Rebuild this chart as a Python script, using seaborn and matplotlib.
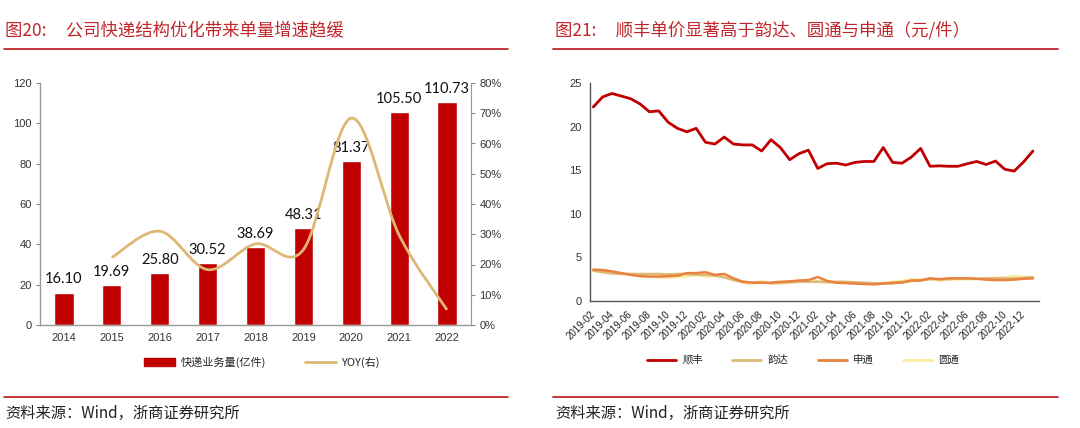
import numpy as np
import pandas as pd
import matplotlib
matplotlib.use("Agg")
import matplotlib.pyplot as plt
from matplotlib.path import Path
from matplotlib.patches import PathPatch, Patch
from matplotlib.lines import Line2D
import seaborn as sns

# ---------------------------
# 数据
# ---------------------------
years = ['2014', '2015', '2016', '2017', '2018', '2019', '2020', '2021', '2022']
volume = [16.10, 19.69, 25.80, 30.52, 38.69, 48.31, 81.37, 105.50, 110.73]   # 快递业务量(亿件)
yoy_years = ['2015', '2016', '2017', '2018', '2019', '2020', '2021', '2022']
yoy = [0.223, 0.310, 0.183, 0.268, 0.249, 0.684, 0.297, 0.050]              # YOY(右)

months = ['2019-02', '2019-03', '2019-04', '2019-05', '2019-06', '2019-07', '2019-08', '2019-09',
          '2019-10', '2019-11', '2019-12', '2020-01', '2020-02', '2020-03', '2020-04', '2020-05',
          '2020-06', '2020-07', '2020-08', '2020-09', '2020-10', '2020-11', '2020-12', '2021-01',
          '2021-02', '2021-03', '2021-04', '2021-05', '2021-06', '2021-07', '2021-08', '2021-09',
          '2021-10', '2021-11', '2021-12', '2022-01', '2022-02', '2022-03', '2022-04', '2022-05',
          '2022-06', '2022-07', '2022-08', '2022-09', '2022-10', '2022-11', '2022-12', '2023-01']
sf = [22.25, 23.4, 23.8, 23.5, 23.2, 22.6, 21.7, 21.8, 20.5, 19.8, 19.4, 19.8,
      18.2, 18.0, 18.8, 18.0, 17.9, 17.9, 17.2, 18.5, 17.6, 16.2, 16.9, 17.3,
      15.2, 15.75, 15.8, 15.6, 15.9, 16.0, 16.0, 17.6, 15.9, 15.8, 16.5, 17.5,
      15.45, 15.5, 15.45, 15.45, 15.75, 16.0, 15.65, 16.05, 15.1, 14.9, 15.95, 17.2]
yunda = [3.5, 3.3, 3.15, 3.1, 3.1, 3.1, 3.1, 3.1, 3.05, 3.1, 3.1, 3.0,
         3.0, 2.9, 2.7, 2.4, 2.2, 2.1, 2.1, 2.05, 2.1, 2.15, 2.2, 2.2,
         2.2, 2.15, 2.2, 2.2, 2.15, 2.1, 2.05, 2.0, 2.0, 2.2, 2.3, 2.4,
         2.5, 2.5, 2.5, 2.55, 2.55, 2.55, 2.6, 2.6, 2.6, 2.6, 2.65, 2.7]
sto = [3.6, 3.55, 3.4, 3.2, 3.0, 2.85, 2.8, 2.8, 2.85, 2.9, 3.2, 3.2,
       3.3, 3.0, 3.1, 2.6, 2.2, 2.1, 2.1, 2.1, 2.2, 2.25, 2.35, 2.4,
       2.75, 2.3, 2.1, 2.05, 2.0, 1.95, 1.9, 2.0, 2.1, 2.1, 2.35, 2.35,
       2.6, 2.5, 2.6, 2.6, 2.6, 2.55, 2.45, 2.4, 2.4, 2.45, 2.55, 2.6]
yto = [3.4, 3.3, 3.2, 3.1, 3.0, 2.9, 2.8, 2.7, 2.7, 2.75, 2.8, 3.0,
       2.8, 2.9, 2.8, 2.4, 2.1, 2.0, 2.3, 2.0, 2.0, 2.1, 2.2, 2.3,
       2.3, 2.2, 2.1, 2.1, 2.1, 2.0, 2.0, 2.1, 2.2, 2.3, 2.5, 2.4,
       2.6, 2.3, 2.5, 2.5, 2.5, 2.5, 2.6, 2.65, 2.7, 2.9, 2.75, 2.75]
brands = ['顺丰', '韵达', '申通', '圆通']

RED = '#C00000'
TITLE_RED = '#C0262B'
TAN = '#DDB874'
palette = {'顺丰': '#C00000', '韵达': '#DDBB78', '申通': '#E98140', '圆通': '#FBEBA0'}

sns.set_style("white")
plt.rcParams['font.family'] = ['Noto Sans CJK SC', 'DejaVu Sans']
TICKFONT = ['Liberation Sans', 'DejaVu Sans']
CJK = ['Noto Sans CJK SC', 'DejaVu Sans']

W, H = 1080, 428
fig = plt.figure(figsize=(W / 100, H / 100), dpi=100)


def fx(px):
    return px / W


def fy(py):
    return 1 - py / H


# ---------------------------
# 标题、分隔线、资料来源
# ---------------------------
fig.text(fx(5), fy(30), '图20:     公司快递结构优化带来单量增速趋缓', color=TITLE_RED,
         fontsize=12.5, va='center', ha='left', family=CJK)
fig.text(fx(555), fy(30), '图21:     顺丰单价显著高于韵达、圆通与申通（元/件）', color=TITLE_RED,
         fontsize=12.5, va='center', ha='left', family=CJK)
for x0, x1 in [(4, 508), (553, 1058)]:
    fig.add_artist(Line2D([fx(x0), fx(x1)], [fy(49), fy(49)], color=TITLE_RED, lw=1.3))
    fig.add_artist(Line2D([fx(x0), fx(x1)], [fy(397), fy(397)], color=TITLE_RED, lw=1.3))
fig.text(fx(5), fy(413), '资料来源：Wind，浙商证券研究所', fontsize=11, va='center', ha='left',
         color='#222222', family=CJK)
fig.text(fx(555), fy(413), '资料来源：Wind，浙商证券研究所', fontsize=11, va='center', ha='left',
         color='#222222', family=CJK)

# ---------------------------
# 左图：快递业务量 + YOY
# ---------------------------
ax1 = fig.add_axes([fx(40), fy(325), fx(431), 242 / H])
df_vol = pd.DataFrame({'year': years, 'volume': volume})
sns.barplot(data=df_vol, x='year', y='volume', color=RED, width=0.4, saturation=1, ax=ax1)
ax1.set_xlim(-0.5, len(years) - 0.5)
ax1.set_ylim(0, 120)
ax1.set_yticks(range(0, 121, 20))
ax1.set_xlabel('')
ax1.set_ylabel('')
for i, v in enumerate(volume):
    ax1.text(i, v + 3, f'{v:.2f}', ha='center', va='bottom', fontsize=10.5,
             family=['Lato', 'DejaVu Sans'], color='#111111', clip_on=False)

ax1.set_xticks(np.arange(-0.5, len(years), 1), minor=True)
ax1.tick_params(axis='x', which='major', length=0, pad=6)
ax1.tick_params(axis='x', which='minor', length=4, direction='out', color='#888888')
ax1.tick_params(axis='y', length=3, direction='out', color='#888888', pad=3)
for lab in ax1.get_xticklabels() + ax1.get_yticklabels():
    lab.set_fontfamily(TICKFONT)
    lab.set_fontsize(8)
    lab.set_color('#333333')
for s in ['top', 'right']:
    ax1.spines[s].set_visible(False)
for s in ['left', 'bottom']:
    ax1.spines[s].set_color('#999999')
    ax1.spines[s].set_linewidth(1.0)

ax2 = ax1.twinx()
ax2.set_ylim(0, 0.8)
ax2.set_yticks(np.arange(0, 0.81, 0.1))
ax2.set_yticklabels([f'{int(round(t * 100))}%' for t in np.arange(0, 0.81, 0.1)])
ax2.tick_params(axis='y', length=3, direction='out', color='#888888', pad=3)
for lab in ax2.get_yticklabels():
    lab.set_fontfamily(TICKFONT)
    lab.set_fontsize(8)
    lab.set_color('#333333')
for s in ['top', 'left', 'bottom']:
    ax2.spines[s].set_visible(False)
ax2.spines['right'].set_color('#999999')

# 平滑曲线 (Catmull-Rom -> Bezier)
px = np.array([years.index(y) for y in yoy_years], dtype=float)
py = np.array(yoy)
verts = [(px[0], py[0])]
codes = [Path.MOVETO]
for i in range(len(px) - 1):
    p0 = np.array([px[max(i - 1, 0)], py[max(i - 1, 0)]])
    p1 = np.array([px[i], py[i]])
    p2 = np.array([px[i + 1], py[i + 1]])
    p3 = np.array([px[min(i + 2, len(px) - 1)], py[min(i + 2, len(px) - 1)]])
    c1 = p1 + (p2 - p0) / 6
    c2 = p2 - (p3 - p1) / 6
    verts += [tuple(c1), tuple(c2), tuple(p2)]
    codes += [Path.CURVE4] * 3
ax2.add_patch(PathPatch(Path(verts, codes), facecolor='none', edgecolor=TAN, lw=2))

fig.legend(handles=[Patch(facecolor=RED, edgecolor=RED),
                    Line2D([], [], color=TAN, lw=2)],
           labels=['快递业务量(亿件)', 'YOY(右)'],
           loc='center', bbox_to_anchor=(fx(262), fy(362)), ncol=2, frameon=False,
           prop={'family': CJK, 'size': 8}, handlelength=2.8, handleheight=0.7,
           columnspacing=3.5, handletextpad=0.5)

# ---------------------------
# 右图：单票价格
# ---------------------------
ax3 = fig.add_axes([fx(590), fy(301), fx(449), 218 / H])
df_price = pd.DataFrame({'month': months, '顺丰': sf, '韵达': yunda, '申通': sto, '圆通': yto})
df_price['idx'] = np.arange(len(months))
df_long = df_price.melt(id_vars=['month', 'idx'], value_vars=brands,
                        var_name='brand', value_name='price')
draw_order = ['圆通', '韵达', '申通', '顺丰']
for b in draw_order:
    sns.lineplot(data=df_long[df_long['brand'] == b], x='idx', y='price',
                 color=palette[b], lw=2 if b == '顺丰' else 1.8, ax=ax3, legend=False)
ax3.set_xlim(-0.35, len(months) - 0.35)
ax3.set_ylim(0, 25)
ax3.set_yticks(range(0, 26, 5))
ticks = [i - 0.35 for i in range(0, len(months) + 1, 2)]
ax3.set_xticks(ticks)
ax3.set_xticklabels([months[i] if i < len(months) - 1 else '' for i in range(0, len(months) + 1, 2)],
                    rotation=45, ha='right', rotation_mode='anchor')
ax3.set_xlabel('')
ax3.set_ylabel('')
ax3.tick_params(axis='x', length=4, direction='out', color='#555555', pad=2)
ax3.tick_params(axis='y', length=3, direction='out', color='#555555', pad=3)
for lab in ax3.get_xticklabels():
    lab.set_fontfamily(TICKFONT)
    lab.set_fontsize(7)
    lab.set_color('#222222')
for lab in ax3.get_yticklabels():
    lab.set_fontfamily(TICKFONT)
    lab.set_fontsize(8)
    lab.set_color('#333333')
for s in ['top', 'right']:
    ax3.spines[s].set_visible(False)
for s in ['left', 'bottom']:
    ax3.spines[s].set_color('#555555')
    ax3.spines[s].set_linewidth(1.0)

fig.legend(handles=[Line2D([], [], color=palette[b], lw=2) for b in brands],
           labels=brands, loc='center', bbox_to_anchor=(fx(803), fy(360)), ncol=4,
           frameon=False, prop={'family': CJK, 'size': 7.5}, handlelength=2.8,
           columnspacing=2.8, handletextpad=0.6)

fig.savefig('out.png', dpi=100)
